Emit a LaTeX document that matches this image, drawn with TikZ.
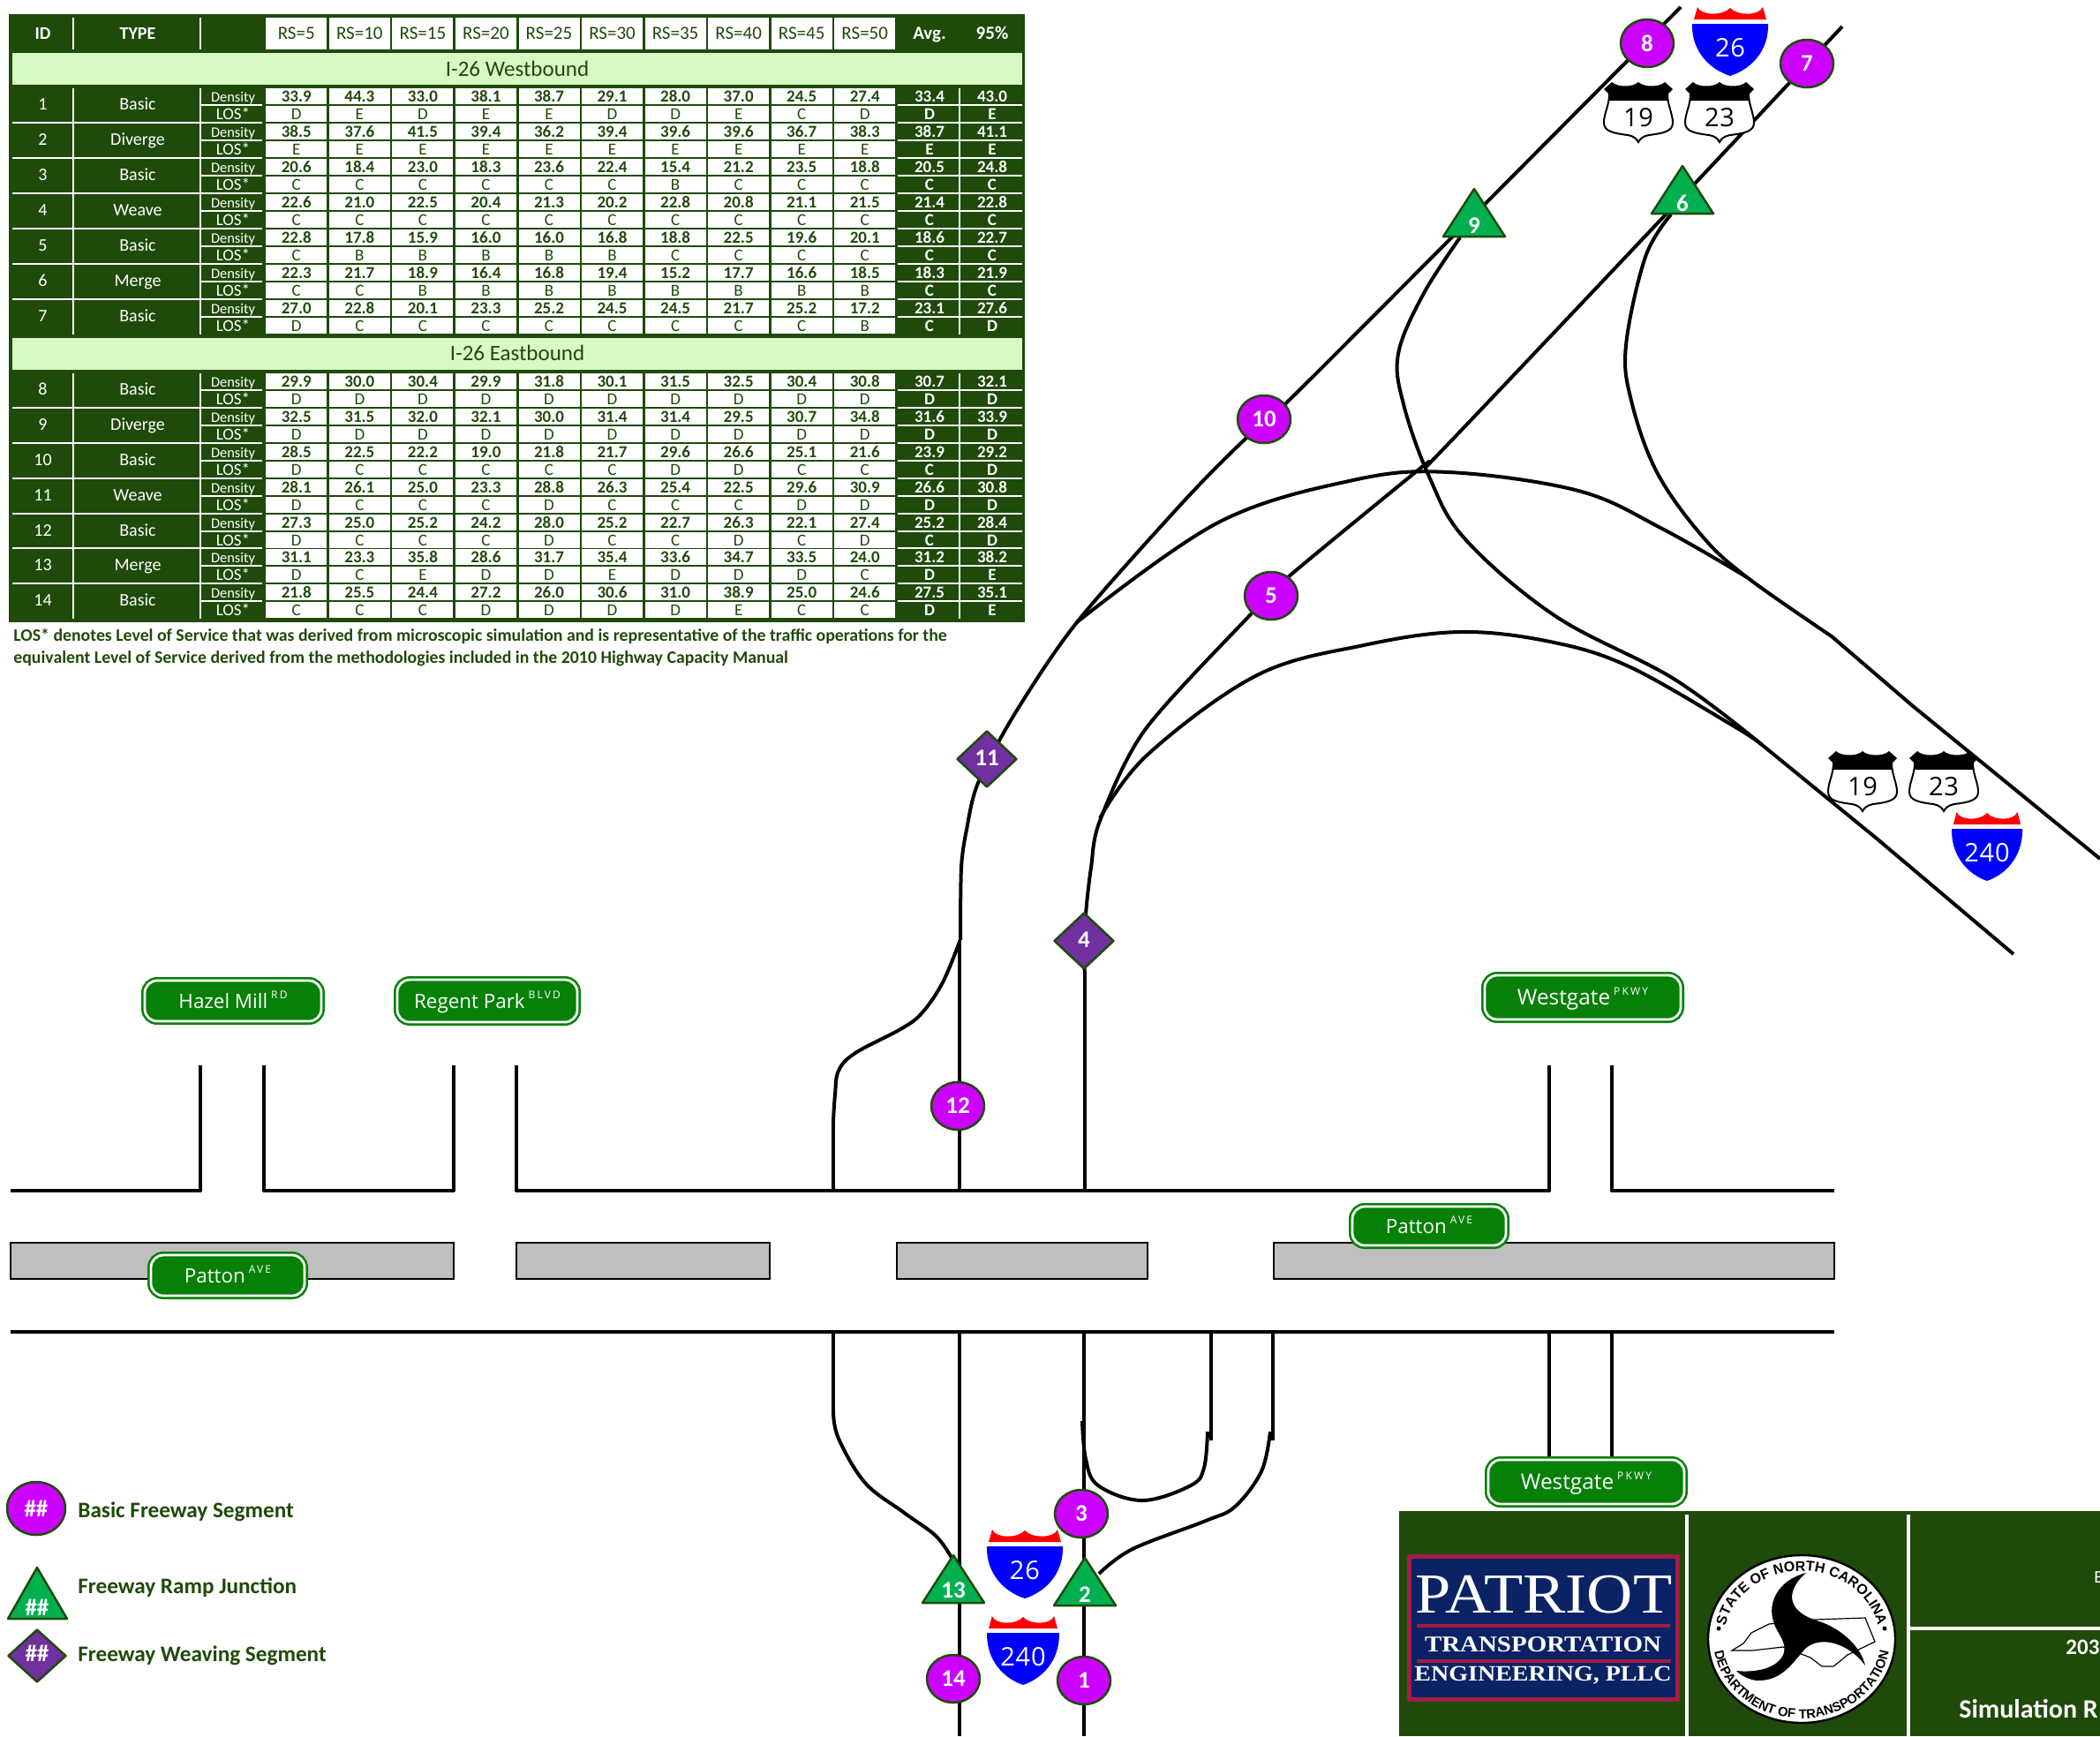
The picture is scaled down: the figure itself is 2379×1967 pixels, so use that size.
\documentclass[tikz,border=0pt]{standalone}
\usepackage{fontspec}
\setmainfont{Carlito}
\newfontfamily\signfont{Open Sans}
\newfontfamily\sealfont{Liberation Sans}
\newfontfamily\logofont[FakeStretch=1.13]{Liberation Serif}
\usepackage{xcolor}
\usetikzlibrary{shapes.geometric, decorations.text}

\definecolor{tabgreen}{HTML}{1F4A0A}
\definecolor{bandgreen}{HTML}{D8F8C4}
\definecolor{basicpink}{HTML}{CC00FF}
\definecolor{rampgreen}{HTML}{00B050}
\definecolor{weavepurple}{HTML}{7030A0}
\definecolor{signgreen}{HTML}{068006}
\definecolor{mediangray}{HTML}{BFBFBF}
\definecolor{logonavy}{HTML}{0B2364}
\definecolor{logored}{HTML}{A51C45}

% street name suffix
\newcommand{\sfx}[1]{\hspace{2pt}\raisebox{5.5pt}{\fontsize{6}{6}\selectfont\addfontfeature{LetterSpace=18}#1}}
% interstate shield: name, x, y of blue top, width factor, number
\newcommand{\intershield}[5]{%
  \begin{scope}[shift={(#2,#3)}, xscale=#4]
    \fill[red] (-41,-5) -- (-37,-19) .. controls (-33,-9) and (-8,-9) .. (0,-18) .. controls (8,-9) and (33,-9) .. (37,-19) -- (41,-5) -- cycle;
    \fill[blue] (-43,0) -- (43,0) .. controls (44,32) and (22,52) .. (0,59) .. controls (-22,52) and (-44,32) .. (-43,0) -- cycle;
  \end{scope}
  \node[shieldtext, white] (#1) at (#2,#3+27) {#5};}
% US route shield: name, x, y of top, number
\newcommand{\usshield}[4]{%
  \begin{scope}[shift={(#2,#3)}]
    \draw[fill=white, line width=1pt] (-33,14) .. controls (-33,26) and (-39,36) .. (-39,46) .. controls (-39,56) and (-28,58) .. (-12,60) .. controls (-6,61) and (-2,64) .. (0,68) .. controls (2,64) and (6,61) .. (12,60) .. controls (28,58) and (39,56) .. (39,46) .. controls (39,36) and (33,26) .. (33,14) -- cycle;
    \fill[black] (-39,8) -- (-30,0) .. controls (-24,6) and (-6,6) .. (0,0) .. controls (6,6) and (24,6) .. (30,0) -- (39,8) -- (33,14) -- (33,21) -- (-33,21) -- (-33,14) -- cycle;
  \end{scope}
  \node[shieldtext, black] (#1) at (#2,#3+40) {#4};}
% ramp junction triangle: name, x, y of apex, height of text, label
\newcommand{\rampmark}[5]{%
  \draw[markline, fill=rampgreen] (#2-35,#3+54) -- (#2,#3) -- (#2+35,#3+54) -- cycle;
  \node[marktext] (#1) at (#2,#3+#4) {#5};}

\begin{document}
\begin{tikzpicture}[x=0.5pt, y=-0.5pt, every node/.style={inner sep=0pt},
  road/.style={draw=black, line width=2pt, line join=round},
  median/.style={draw=black, fill=mediangray, line width=1.25pt},
  markline/.style={draw=tabgreen, line width=1.25pt, line join=round},
  marktext/.style={text=white, font=\fontsize{13.5}{14}\selectfont\bfseries},
  basicmark/.style={ellipse, markline, fill=basicpink, minimum width=30pt, minimum height=27pt, marktext},
  weavemark/.style={diamond, markline, fill=weavepurple, minimum width=34pt, minimum height=32pt, marktext},
  roadsign/.style={rectangle, rounded corners=7pt, draw=signgreen, fill=signgreen, double=white, double distance=1.4pt, line width=1.3pt, text=white, text height=8.2pt, text depth=0pt, font=\signfont\fontsize{11.2}{12}\selectfont},
  shieldtext/.style={font=\signfont\fontsize{14.5}{15}\selectfont\addfontfeature{LetterSpace=3}},
  headcell/.style={rectangle, fill=white, minimum width=34.5pt, minimum height=18pt, text=tabgreen, font=\fontsize{10.5}{11}\selectfont},
  datacell/.style={rectangle, fill=white, minimum width=34.5pt, minimum height=9pt, text=tabgreen, text height=6.2pt, text depth=0pt, font=\fontsize{9.5}{10}\selectfont},
  whitetext/.style={text=white, text height=6.2pt, text depth=0pt, font=\fontsize{10}{11}\selectfont},
  sepline/.style={draw=white, line width=1.3pt},
  logotext/.style={text=white, font=\logofont},
  legendtext/.style={anchor=west, text=tabgreen, font=\fontsize{12.6}{13}\selectfont\bfseries},
  blocktext/.style={anchor=west, text=white}]
\useasboundingbox (0,0) rectangle (2379,1967);

% Freeway lines, northern part
\draw[road] plot[smooth, tension=0.5] coordinates {(1904,8) (1475,439) (1411,497) (1341,568) (1220,705) (1150,808) (1108,887) (1095,940) (1089,983) (1088,1065)};
\draw[road] (1087,1065) -- (1087,1349);
\draw[road] plot[smooth, tension=0.5] coordinates {(2087,30) (1887,243) (1631,513) (1612,528) (1459,654) (1415,698) (1297,827) (1246,930) (1236,983) (1230,1037) (1228.5,1100)};
\draw[road] (1228.5,1100) -- (1228.5,1349);
% Ramp from junction 6 and the line to the south-east
\draw[road] plot[smooth, tension=0.6] coordinates {(1893,243) (1864,291) (1842,391) (1848,454) (1877,535) (1928,607) (1979,654) (2075,721)};
\draw[road] (2075,721) -- (2167,800) -- (2379,973);
% Ramp from junction 9
\draw[road] plot[smooth, tension=0.6] coordinates {(1654,269) (1612,334) (1584,401) (1590,458) (1619,540) (1660,611) (1762,698) (1896,769) (1995,843)};
% The two long arcs
\draw[road] plot[smooth, tension=0.6] coordinates {(1220,705) (1380,592) (1533,544) (1641,535) (1788,556) (1883,599) (1979,654)};
\draw[road] plot[smooth, tension=0.6] coordinates {(1246,927) (1300,855) (1424,765) (1545,731) (1654,716) (1756,727) (1845,755) (1963,822) (1995,843)};
\draw[road] (1995,843) -- (2126,950) -- (2281,1081);
% Branch down to the street
\draw[road] plot[smooth, tension=0.6] coordinates {(1087,1067) (1068,1113) (1045,1147) (1022,1165) (969,1193) (950,1213) (946,1240) (944,1270)};
\draw[road] (944,1270) -- (944,1349);

% Streets
\draw[road] (12,1349) -- (227,1349) -- (227,1207);
\draw[road] (299,1207) -- (299,1349) -- (514,1349) -- (514,1207);
\draw[road] (585,1207) -- (585,1349) -- (1755,1349) -- (1755,1207);
\draw[road] (1826,1207) -- (1826,1349) -- (2078,1349);
\draw[road] (12,1509) -- (2078,1509);
\draw[road] (1755,1509) -- (1755,1660);
\draw[road] (1826,1509) -- (1826,1660);
% Medians
\draw[median] (12,1408) rectangle (514,1449);
\draw[median] (585,1408) rectangle (872,1449);
\draw[median] (1016,1408) rectangle (1300,1449);
\draw[median] (1443,1408) rectangle (2078,1449);

% Interchange to the south
\draw[road] (1087,1509) -- (1087,1967);
\draw[road] (1228,1509) -- (1228,1967);
\draw[road] (944,1509) -- (944,1600);
\draw[road] plot[smooth, tension=0.6] coordinates {(944,1600) (950,1630) (980,1680) (1023,1713) (1060,1740) (1078,1765)};
\draw[road] (1372,1509) -- (1372,1632);
\draw[road] (1442,1509) -- (1442,1632);
\draw[road] plot[smooth, tension=0.6] coordinates {(1226,1610) (1230,1653) (1244,1683) (1294,1700) (1349,1683) (1364,1663) (1368,1622)};
\draw[road] plot[smooth, tension=0.6] coordinates {(1439,1622) (1429,1667) (1399,1707) (1366,1723) (1283,1755) (1245,1783)};

% Street signs
\node[roadsign, minimum width=100pt, minimum height=23pt] (hazel) at (264,1134) {Hazel Mill\sfx{RD}};
\node[roadsign, minimum width=102pt, minimum height=24pt] (regent) at (552,1134) {Regent Park\sfx{BLVD}};
\node[roadsign, minimum width=87pt, minimum height=23pt] (pattonw) at (258,1445) {Patton\sfx{AVE}};
\node[roadsign, minimum width=87pt, minimum height=22pt] (pattone) at (1619,1389) {Patton\sfx{AVE}};
\node[roadsign, minimum width=111pt, minimum height=25pt] (westgaten) at (1793,1130) {\fontsize{12.2}{13}\selectfont Westgate\sfx{PKWY}};
\node[roadsign, minimum width=111pt, minimum height=25pt] (westgates) at (1797,1679) {\fontsize{12.2}{13}\selectfont Westgate\sfx{PKWY}};

% Route shields
\intershield{i26n}{1960}{27}{1}{26}
\usshield{us19n}{1856}{93}{19}
\usshield{us23n}{1948}{93}{23}
\usshield{us19e}{2110}{851}{19}
\usshield{us23e}{2202}{851}{23}
\intershield{i240e}{2251}{939}{0.93}{240}
\intershield{i26s}{1161}{1752}{1}{26}
\intershield{i240s}{1159}{1850}{0.95}{240}

% Basic segments
\node[basicmark] (seg1) at (1228,1904) {1};
\node[basicmark] (seg3) at (1225,1715) {3};
\node[basicmark] (seg5) at (1440,675) {5};
\node[basicmark] (seg7) at (2047,72) {7};
\node[basicmark] (seg8) at (1866,49) {8};
\node[basicmark] (seg10) at (1432,475) {10};
\node[basicmark] (seg12) at (1085,1253) {12};
\node[basicmark] (seg14) at (1080,1902) {14};
% Ramp junctions
\rampmark{seg2}{1229}{1765}{42}{2}
\rampmark{seg6}{1906}{188}{42}{6}
\rampmark{seg9}{1670}{214}{42}{9}
\rampmark{seg13}{1080}{1762}{40}{13}
% Weaving segments
\node[weavemark] (seg4) at (1228,1066) {\raisebox{1.5pt}{4}};
\node[weavemark] (seg11) at (1118,860) {\raisebox{1.5pt}{11}};

% Table background, header and bands
\fill[tabgreen] (10,16) rectangle (1161,705);
\node[whitetext, font=\fontsize{10}{11}\selectfont\bfseries] (headid) at (48.5,38) {ID};
\node[whitetext, font=\fontsize{10}{11}\selectfont\bfseries] (headtype) at (156,38) {TYPE};
\node[whitetext, font=\fontsize{10.5}{11}\selectfont\bfseries] (headavg) at (1053,38) {Avg.};
\node[whitetext, font=\fontsize{10.5}{11}\selectfont\bfseries] (headpct) at (1124,38) {95\%};
\foreach \lab [count=\k, evaluate=\k as \cx using 335.8+71.55*(\k-1)] in {RS=5,RS=10,RS=15,RS=20,RS=25,RS=30,RS=35,RS=40,RS=45,RS=50}
  \node[headcell] (rs\k) at (\cx,38) {\lab};
\fill[bandgreen] (14,60) rectangle (1158,96);
\fill[bandgreen] (14,383) rectangle (1158,419);
\node[text=tabgreen, font=\fontsize{12.5}{13}\selectfont] (bandwest) at (586,78) {I-26 Westbound};
\node[text=tabgreen, font=\fontsize{12.5}{13}\selectfont] (bandeast) at (586,400) {I-26 Eastbound};

% White rules of the table
\draw[sepline] (83,20) -- (83,56);
\draw[sepline] (227,20) -- (227,56);
\foreach \ya/\yb in {100/379, 423/701} {
  \draw[sepline] (83,\ya) -- (83,\yb);
  \draw[sepline] (227,\ya) -- (227,\yb);
  \draw[sepline, line width=0.9pt] (1087,\ya) -- (1087,\yb);
}
\foreach \sy in {139,179,219,259,299,339,462,502,542,582,621,661} {
  \draw[sepline] (14,\sy) -- (297,\sy);
  \draw[sepline] (1017,\sy) -- (1158,\sy);
}

% Table rows
\foreach \rid/\ry/\rtype/\dens/\loss/\avgd/\pctd/\avgl/\pctl in {
  1/100/Basic/{33.9,44.3,33.0,38.1,38.7,29.1,28.0,37.0,24.5,27.4}/{D,E,D,E,E,D,D,E,C,D}/33.4/43.0/D/E,
  2/140/Diverge/{38.5,37.6,41.5,39.4,36.2,39.4,39.6,39.6,36.7,38.3}/{E,E,E,E,E,E,E,E,E,E}/38.7/41.1/E/E,
  3/180/Basic/{20.6,18.4,23.0,18.3,23.6,22.4,15.4,21.2,23.5,18.8}/{C,C,C,C,C,C,B,C,C,C}/20.5/24.8/C/C,
  4/220/Weave/{22.6,21.0,22.5,20.4,21.3,20.2,22.8,20.8,21.1,21.5}/{C,C,C,C,C,C,C,C,C,C}/21.4/22.8/C/C,
  5/260/Basic/{22.8,17.8,15.9,16.0,16.0,16.8,18.8,22.5,19.6,20.1}/{C,B,B,B,B,B,C,C,C,C}/18.6/22.7/C/C,
  6/300/Merge/{22.3,21.7,18.9,16.4,16.8,19.4,15.2,17.7,16.6,18.5}/{C,C,B,B,B,B,B,B,B,B}/18.3/21.9/C/C,
  7/340/Basic/{27.0,22.8,20.1,23.3,25.2,24.5,24.5,21.7,25.2,17.2}/{D,C,C,C,C,C,C,C,C,B}/23.1/27.6/C/D,
  8/423/Basic/{29.9,30.0,30.4,29.9,31.8,30.1,31.5,32.5,30.4,30.8}/{D,D,D,D,D,D,D,D,D,D}/30.7/32.1/D/D,
  9/463/Diverge/{32.5,31.5,32.0,32.1,30.0,31.4,31.4,29.5,30.7,34.8}/{D,D,D,D,D,D,D,D,D,D}/31.6/33.9/D/D,
  10/503/Basic/{28.5,22.5,22.2,19.0,21.8,21.7,29.6,26.6,25.1,21.6}/{D,C,C,C,C,C,D,D,C,C}/23.9/29.2/C/D,
  11/543/Weave/{28.1,26.1,25.0,23.3,28.8,26.3,25.4,22.5,29.6,30.9}/{D,C,C,C,D,C,C,C,D,D}/26.6/30.8/D/D,
  12/583/Basic/{27.3,25.0,25.2,24.2,28.0,25.2,22.7,26.3,22.1,27.4}/{D,C,C,C,D,C,C,D,C,D}/25.2/28.4/C/D,
  13/622/Merge/{31.1,23.3,35.8,28.6,31.7,35.4,33.6,34.7,33.5,24.0}/{D,C,E,D,D,E,D,D,D,C}/31.2/38.2/D/E,
  14/662/Basic/{21.8,25.5,24.4,27.2,26.0,30.6,31.0,38.9,25.0,24.6}/{C,C,C,D,D,D,D,E,C,C}/27.5/35.1/D/E} {
  \node[whitetext] (id\rid) at (48.5,\ry+18.5) {\rid};
  \node[whitetext] (type\rid) at (156,\ry+18.5) {\rtype};
  \node[whitetext, font=\fontsize{8.2}{9}\selectfont] (denlab\rid) at (264,\ry+9) {Density};
  \node[whitetext, font=\fontsize{9.5}{10}\selectfont] (loslab\rid) at (264,\ry+29.5) {LOS*};
  \draw[sepline, line width=1pt] (228,\ry+19) -- (297,\ry+19);
  \draw[sepline, line width=1pt] (1017,\ry+19) -- (1158,\ry+19);
  \foreach \val [count=\k, evaluate=\k as \cx using 335.8+71.55*(\k-1)] in \dens
    \node[datacell, font=\fontsize{9.5}{10}\selectfont\bfseries] (den\rid-\k) at (\cx,\ry+9) {\val};
  \foreach \val [count=\k, evaluate=\k as \cx using 335.8+71.55*(\k-1)] in \loss
    \node[datacell] (los\rid-\k) at (\cx,\ry+29) {\val};
  \node[whitetext, font=\fontsize{9.5}{10}\selectfont\bfseries] (denavg\rid) at (1053,\ry+9) {\avgd};
  \node[whitetext, font=\fontsize{9.5}{10}\selectfont\bfseries] (denpct\rid) at (1124,\ry+9) {\pctd};
  \node[whitetext, font=\fontsize{9.5}{10}\selectfont\bfseries] (losavg\rid) at (1053,\ry+29) {\avgl};
  \node[whitetext, font=\fontsize{9.5}{10}\selectfont\bfseries] (lospct\rid) at (1124,\ry+29) {\pctl};
}

% Note under the table
\node[legendtext, font=\fontsize{9.9}{11}\selectfont\bfseries] (note1) at (15,721) {LOS* denotes Level of Service that was derived from microscopic simulation and is representative of the traffic operations for the};
\node[legendtext, font=\fontsize{9.9}{11}\selectfont\bfseries] (note2) at (15,746) {equivalent Level of Service derived from the methodologies included in the 2010 Highway Capacity Manual};

% Legend
\node[basicmark, minimum width=33pt, minimum height=30pt] (legbasic) at (41,1709) {\#\#};
\node[legendtext] (legbasictext) at (88,1713) {Basic Freeway Segment};
\draw[markline, fill=rampgreen] (9,1834) -- (42,1776) -- (76,1834) -- cycle;
\node[marktext] (legramp) at (42,1821) {\#\#};
\node[legendtext] (legramptext) at (88,1799) {Freeway Ramp Junction};
\node[weavemark, minimum width=33pt, minimum height=30pt] (legweave) at (42,1876) {\raisebox{3pt}{\#\#}};
\node[legendtext] (legweavetext) at (88,1876) {Freeway Weaving Segment};

% Title block
\fill[tabgreen] (1585,1712) rectangle (2379,1967);
\draw[sepline, line width=2pt] (1911,1716) -- (1911,1967);
\draw[sepline, line width=2pt] (2162,1716) -- (2162,1967);
\draw[sepline, line width=2pt] (2162,1845) -- (2379,1845);
\node[blocktext, font=\fontsize{10}{11}\selectfont] (blockE) at (2372,1787) {E};
\node[blocktext, font=\fontsize{12.5}{13}\selectfont\bfseries] (block203) at (2340,1866) {203};
\node[blocktext, font=\fontsize{15}{16}\selectfont\bfseries] (blocksim) at (2219,1936) {Simulation R};

% Consultant logo
\draw[fill=logonavy, draw=logored, line width=2.5pt] (1596,1763) rectangle (1900,1925);
\draw[logored, line width=2pt] (1605,1842) -- (1892,1842);
\draw[logored, line width=2pt] (1605,1882) -- (1893,1882);
\node[logotext, font=\logofont\fontsize{32}{33}\selectfont] (patriot) at (1749,1807) {PATRIOT};
\node[logotext, font=\logofont\bfseries\fontsize{12.8}{14}\selectfont] (transport) at (1748,1863) {TRANSPORTATION};
\node[logotext, font=\logofont\bfseries\fontsize{12.4}{14}\selectfont] (engineering) at (1748,1898) {ENGINEERING, PLLC};

% DOT seal
\draw[fill=white, draw=black, line width=1.2pt] (2041,1857) ellipse (106 and 95);
\draw[line width=0.6pt] (1962,1870) -- (1975,1862) -- (1984,1850) -- (2004,1840) -- (2056,1835) -- (2113,1833) -- (2124,1860) -- (2093,1875) -- (2077,1888) -- (2064,1888) -- (2051,1878) -- (2020,1866) -- (1985,1870) -- cycle;
\fill[black] (2046,1782) .. controls (2025,1800) and (2020,1825) .. (2061,1837) .. controls (2085,1845) and (2108,1865) .. (2113,1887) .. controls (2095,1862) and (2062,1852) .. (2045,1868) .. controls (2030,1885) and (2018,1905) .. (1990,1904) .. controls (1982,1903) and (1973,1899) .. (1967,1893) .. controls (1985,1895) and (2012,1892) .. (2020,1875) .. controls (2026,1860) and (2012,1850) .. (2009,1837) .. controls (2002,1815) and (2015,1790) .. (2046,1782) -- cycle;
\fill[black] (1947,1845) circle (2.5);
\fill[black] (2135,1845) circle (2.5);
\begin{scope}[shift={(2041,1857)}, y=0.5pt]
  \path[decorate, decoration={text along path, text align=center, text={|\sealfont\bfseries\fontsize{8}{9}\selectfont|STATE OF NORTH CAROLINA}}] (170:88 and 77) arc (170:10:88 and 77);
  \path[decorate, decoration={text along path, text align=center, text={|\sealfont\bfseries\fontsize{7.4}{8}\selectfont|DEPARTMENT OF TRANSPORTATION}}] (183:100 and 90) arc (183:357:100 and 90);
\end{scope}
\end{tikzpicture}
\end{document}
